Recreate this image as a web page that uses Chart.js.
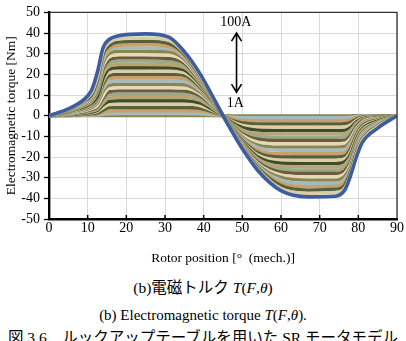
<!DOCTYPE html>
<html lang="ja">
<head>
<meta charset="UTF-8">
<title>電磁トルク T(F,θ)</title>
<script src="https://cdn.jsdelivr.net/npm/chart.js"></script>
<style>
    body {
        margin: 0;
        background: #fff;
        width: 406px;
        height: 341px;
        overflow: hidden;
        position: relative;
        font-family: "Liberation Serif", "Noto Sans CJK JP", serif;
        color: #000;
    }
    #wrap {
        position: absolute;
        left: 0;
        top: 0;
        width: 406px;
        height: 272px;
    }
    .cap {
        position: absolute;
        left: 0;
        width: 406px;
        text-align: center;
        font-size: 15px;
        line-height: 18px;
        white-space: nowrap;
    }
    .jp { font-size: 15.5px; }
</style>
</head>
<body>
<div id="wrap"><canvas id="chart" width="406" height="272"></canvas></div>
<div class="cap jp" style="top:279px">(b)電磁トルク <i>T</i>(<i>F</i>,<i>θ</i>)</div>
<div class="cap" style="top:306px">(b) Electromagnetic torque <i>T</i>(<i>F</i>,<i>θ</i>).</div>
<div class="cap jp" style="top:329px">図 3.6　ルックアップテーブルを用いた SR モータモデル</div>

<script>
// rotor angle [deg mech.]
const angles = [0, 5, 9, 11, 12.5, 14, 15.5, 18, 25, 31, 35, 39, 42, 45, 47.5, 50, 54, 60, 67, 74, 76.5, 78, 79.5, 81, 85, 90];

// torque [Nm] per phase current
const t100 = [0, 3.3, 7.8, 12.3, 21, 33, 36.8, 38.7, 39.6, 38, 31, 20.5, 10.5, 0, -8.2, -16, -26.5, -36.3, -39.3, -39, -36, -29, -20, -13, -6, 0];
const t97 = [0, 3.0, 7.4, 11.0, 18.6, 31.2, 35.3, 37.2, 37.6, 36.5, 30.5, 19.7, 10.1, 0, -8.0, -15.5, -25.9, -35.3, -37.6, -37.2, -35.0, -28.2, -18.8, -12.0, -5.3, 0];
const t93 = [0, 2.9, 7.2, 10.1, 17.3, 29.9, 33.8, 35.6, 36, 34.9, 29.8, 19.2, 9.9, 0, -7.9, -15.2, -25.3, -33.8, -36, -35.6, -33.5, -27.2, -18, -11.5, -5.0, 0];
const t89 = [0, 2.8, 6.9, 9.6, 16.5, 28.6, 32.3, 34.1, 34.4, 33.4, 29.0, 18.7, 9.7, 0, -7.8, -14.9, -24.8, -32.5, -34.4, -34.1, -32.0, -26.4, -17.2, -10.7, -4.7, 0];
const t85 = [0, 2.6, 6.2, 8.9, 14.8, 26.9, 31.5, 32.8, 32.8, 32.5, 28.2, 18.2, 9.6, 0, -7.7, -14.6, -24.3, -31.2, -32.8, -32.8, -30.7, -25.6, -16.4, -9.8, -4.3, 0];
const t81 = [0, 2.5, 5.9, 8.4, 14.0, 25.6, 30.0, 31.2, 31.2, 30.9, 27.3, 17.8, 9.4, 0, -7.5, -14.4, -23.7, -29.9, -31.2, -31.2, -29.3, -24.5, -15.6, -9.3, -4.1, 0];
const t77 = [0, 2.4, 5.6, 8.0, 13.3, 24.3, 28.4, 29.6, 29.6, 29.3, 26.4, 17.4, 9.2, 0, -7.4, -14.1, -23.1, -28.6, -29.6, -29.6, -28.0, -23.5, -14.8, -8.9, -3.8, 0];
const t73 = [0, 2.2, 5.3, 7.6, 12.6, 23.0, 26.9, 28, 28, 27.7, 25.5, 17.0, 9.0, 0, -7.3, -13.8, -22.5, -27.3, -28, -28, -26.6, -22.4, -14.0, -8.4, -3.6, 0];
const t69 = [0, 2.1, 5.0, 7.1, 11.9, 21.7, 25.3, 26.4, 26.4, 26.1, 24.4, 16.5, 8.8, 0, -7.1, -13.5, -21.7, -25.9, -26.4, -26.4, -25.2, -21.1, -13.1, -7.7, -3.3, 0];
const t65 = [0, 2.0, 4.7, 6.7, 11.2, 20.3, 23.8, 24.8, 24.8, 24.6, 23.3, 16.0, 8.5, 0, -7.0, -13.2, -20.9, -24.5, -24.8, -24.8, -23.7, -19.8, -12.2, -7.0, -3.0, 0];
const t61 = [0, 1.9, 4.2, 6.0, 9.3, 18.1, 22.5, 23.2, 23.2, 23.2, 22.1, 15.4, 8.2, 0, -6.8, -12.8, -20.0, -23.0, -23.2, -23.2, -22.3, -18.6, -11.4, -6.4, -2.6, 0];
const t57 = [0, 1.7, 3.9, 5.6, 8.6, 16.9, 21.0, 21.6, 21.6, 21.6, 20.8, 14.7, 7.9, 0, -6.6, -12.4, -19.0, -21.5, -21.6, -21.6, -20.8, -17.3, -10.5, -5.7, -2.3, 0];
const t53 = [0, 1.6, 3.6, 5.2, 8.0, 15.6, 19.4, 20, 20, 20, 19.5, 14.0, 7.6, 0, -6.4, -12.0, -18.0, -20, -20, -20, -19.4, -16.0, -9.6, -5.0, -2.0, 0];
const t49 = [0, 1.5, 3.3, 4.8, 7.4, 14.4, 17.9, 18.4, 18.4, 18.4, 18.0, 13.2, 7.2, 0, -6.1, -11.4, -16.7, -18.4, -18.4, -18.4, -17.9, -14.7, -8.7, -4.5, -1.8, 0];
const t45 = [0, 1.3, 3.0, 4.4, 6.7, 13.1, 16.3, 16.8, 16.8, 16.8, 16.5, 12.4, 6.8, 0, -5.9, -10.9, -15.4, -16.8, -16.8, -16.8, -16.4, -13.4, -7.9, -4.0, -1.6, 0];
const t41 = [0, 1.2, 2.7, 4.0, 6.1, 11.9, 14.7, 15.2, 15.2, 15.2, 15.0, 11.6, 6.4, 0, -5.6, -10.3, -14.2, -15.2, -15.2, -15.2, -14.9, -12.2, -7.0, -3.6, -1.4, 0];
const t37 = [0, 0.95, 2.3, 3.4, 4.9, 9.8, 13.2, 13.6, 13.6, 13.6, 13.5, 10.7, 5.8, 0, -5.3, -9.5, -12.8, -13.6, -13.6, -13.6, -13.3, -10.9, -6.1, -3.1, -1.2, 0];
const t33 = [0, 0.84, 2.0, 3.0, 4.3, 8.6, 11.6, 12, 12, 12, 11.9, 9.7, 5.3, 0, -4.9, -8.8, -11.4, -12, -12, -12, -11.8, -9.6, -5.3, -2.6, -1.0, 0];
const t29 = [0, 0.73, 1.8, 2.6, 3.7, 7.5, 10.1, 10.4, 10.4, 10.4, 10.4, 8.7, 4.7, 0, -4.6, -8.0, -10.0, -10.4, -10.4, -10.4, -10.2, -8.3, -4.4, -2.1, -0.85, 0];
const t25 = [0, 0.62, 1.5, 2.2, 3.2, 6.3, 8.5, 8.8, 8.8, 8.8, 8.8, 7.5, 4.1, 0, -4.1, -6.9, -8.6, -8.8, -8.8, -8.8, -8.6, -7.0, -3.7, -1.8, -0.7, 0];
const t21 = [0, 0.5, 1.2, 1.8, 2.6, 5.2, 7.0, 7.2, 7.2, 7.2, 7.2, 6.2, 3.4, 0, -3.5, -5.8, -7.0, -7.2, -7.2, -7.2, -7.1, -5.8, -3.0, -1.4, -0.56, 0];
const t17 = [0, 0.39, 0.95, 1.4, 2.0, 4.0, 5.4, 5.6, 5.6, 5.6, 5.6, 4.9, 2.8, 0, -2.9, -4.7, -5.5, -5.6, -5.6, -5.6, -5.5, -4.5, -2.3, -1.1, -0.42, 0];
const t13 = [0, 0.28, 0.64, 0.96, 1.3, 2.7, 3.9, 4, 4, 4, 4, 3.6, 2.1, 0, -2.4, -3.5, -4.0, -4, -4, -4, -3.9, -3.2, -1.6, -0.75, -0.29, 0];
const t9 = [0, 0.17, 0.38, 0.58, 0.79, 1.6, 2.3, 2.4, 2.4, 2.4, 2.4, 2.2, 1.4, 0, -1.6, -2.2, -2.4, -2.4, -2.4, -2.4, -2.35, -1.9, -0.96, -0.43, -0.16, 0];
const t5 = [0, 0.07, 0.16, 0.24, 0.33, 0.68, 0.97, 1, 1, 1, 1, 0.93, 0.57, 0, -0.67, -0.93, -1, -1, -1, -1, -0.98, -0.8, -0.4, -0.18, -0.07, 0];
const t1 = [0, 0.01, 0.02, 0.02, 0.03, 0.07, 0.1, 0.1, 0.1, 0.1, 0.1, 0.09, 0.06, 0, -0.07, -0.09, -0.1, -0.1, -0.1, -0.1, -0.1, -0.08, -0.04, -0.02, -0.01, 0];

const currents = [100, 97, 93, 89, 85, 81, 77, 73, 69, 65, 61, 57, 53, 49, 45, 41, 37, 33, 29, 25, 21, 17, 13, 9, 5, 1];
const torqueRows = [t100, t97, t93, t89, t85, t81, t77, t73, t69, t65, t61, t57, t53, t49, t45, t41, t37, t33, t29, t25, t21, t17, t13, t9, t5, t1];

const xTicks = [0, 10, 20, 30, 40, 50, 60, 70, 80, 90];
const yTicks = [-50, -40, -30, -20, -10, 0, 10, 20, 30, 40, 50];

// muted stripe colours, cycled over the currents
const stripeColors = ['#d9cea6', '#56603a', '#c9a06a', '#a3bcc2', '#8b8550', '#e4dab8', '#6d5b3b', '#9aa98a', '#b8a56f', '#3f4b2d'];
const envelopeColor = '#3d5da0';

const FONT = '"Liberation Serif", "Times New Roman", serif';

const datasets = torqueRows.map((row, i) => ({
    label: currents[i] + 'A',
    data: row.map((v, j) => ({ x: angles[j], y: v })),
    borderColor: i === 0 ? envelopeColor : stripeColors[(i - 1) % stripeColors.length],
    borderWidth: i === 0 ? 3.6 : 3.4,
    pointRadius: 0,
    fill: false,
    cubicInterpolationMode: 'monotone'
}));

// frame, inner x ticks and the 1A-100A arrow
const extras = {
    id: 'extras',
    afterDraw(chart) {
        const { ctx, chartArea: a, scales: { x, y } } = chart;
        ctx.save();
        ctx.strokeStyle = '#333';
        ctx.lineWidth = 1.3;
        ctx.beginPath();
        ctx.moveTo(a.left, a.top);
        ctx.lineTo(a.right, a.top);
        ctx.lineTo(a.right, a.bottom);
        ctx.stroke();

        ctx.strokeStyle = '#000';
        ctx.lineWidth = 1.5;
        xTicks.slice(1, -1).forEach(t => {
            const px = x.getPixelForValue(t);
            ctx.beginPath();
            ctx.moveTo(px, a.bottom);
            ctx.lineTo(px, a.bottom - 4);
            ctx.stroke();
        });

        const ax = x.getPixelForValue(48.5);
        const y1 = y.getPixelForValue(40);
        const y2 = y.getPixelForValue(11.4);
        ctx.lineWidth = 1.6;
        ctx.beginPath();
        ctx.moveTo(ax, y1);
        ctx.lineTo(ax, y2);
        ctx.moveTo(ax - 5, y1 + 8);
        ctx.lineTo(ax, y1);
        ctx.lineTo(ax + 5, y1 + 8);
        ctx.moveTo(ax - 5, y2 - 8);
        ctx.lineTo(ax, y2);
        ctx.lineTo(ax + 5, y2 - 8);
        ctx.stroke();

        ctx.fillStyle = '#000';
        ctx.font = '14px ' + FONT;
        ctx.textAlign = 'center';
        ctx.textBaseline = 'middle';
        ctx.fillText('100A', x.getPixelForValue(48.3), y.getPixelForValue(45.3));
        ctx.fillText('1A', x.getPixelForValue(48.2), y.getPixelForValue(5.8));
        ctx.restore();
    }
};

function drawChart() {
    Chart.defaults.font.family = FONT;
    Chart.defaults.font.size = 14;
    Chart.defaults.color = '#000';

    new Chart(document.getElementById('chart'), {
        type: 'line',
        data: { datasets },
        options: {
            responsive: false,
            animation: false,
            devicePixelRatio: 1,
            layout: { padding: { top: 9.5, right: 9, left: 0, bottom: 0 } },
            plugins: { legend: { display: false }, tooltip: { enabled: false } },
            scales: {
                x: {
                    type: 'linear',
                    min: 0,
                    max: 90,
                    afterBuildTicks: s => { s.ticks = xTicks.map(v => ({ value: v })); },
                    afterFit: s => { s.height = 53; },
                    ticks: { padding: 1, maxRotation: 0 },
                    grid: { color: '#d9d9d9', lineWidth: 1, drawTicks: false },
                    border: { color: '#000', width: 2.4 },
                    title: { display: true, text: 'Rotor position [°  (mech.)]', font: { size: 13.5 }, padding: { top: 0, bottom: 5 } }
                },
                y: {
                    min: -50,
                    max: 50,
                    afterBuildTicks: s => { s.ticks = yTicks.map(v => ({ value: v })); },
                    afterFit: s => { s.width = 49; },
                    ticks: { padding: 4 },
                    grid: { color: '#d9d9d9', lineWidth: 1, tickLength: 5, tickColor: '#000', tickWidth: 1.3 },
                    border: { color: '#000', width: 2.4 },
                    title: { display: true, text: 'Electromagnetic torque [Nm]', font: { size: 13.5 }, padding: { top: 3, bottom: 0 } }
                }
            }
        },
        plugins: [extras]
    });
}

// make sure the serif face is ready before the canvas text is drawn
document.fonts.load('14px "Liberation Serif"').then(drawChart, drawChart);
</script>
</body>
</html>
